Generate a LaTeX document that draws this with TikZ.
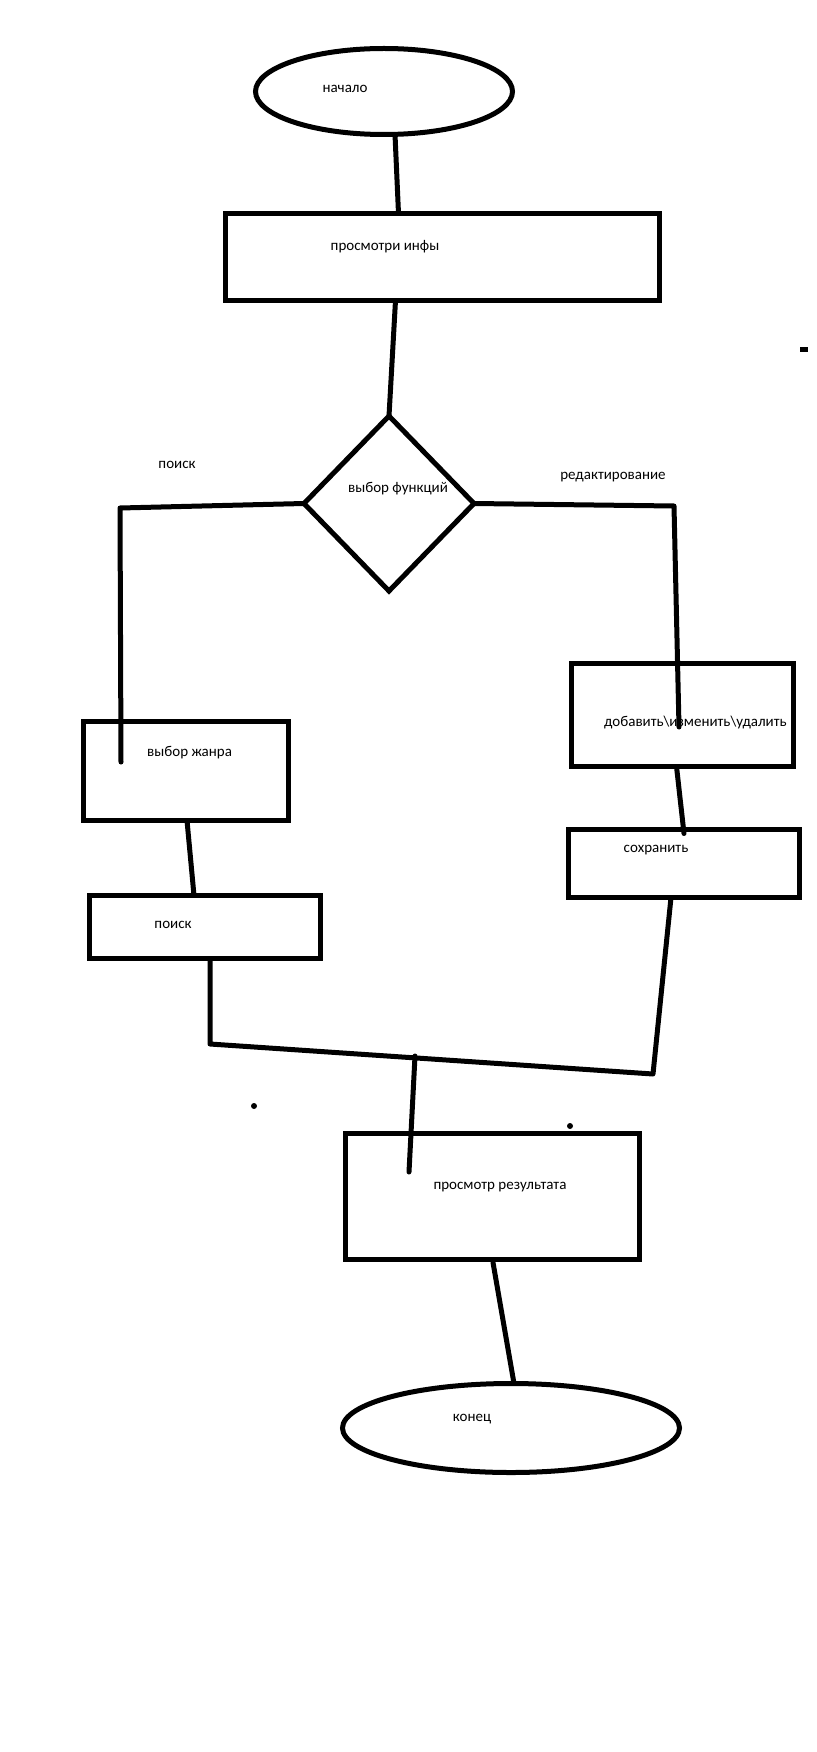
\documentclass[tikz,border=0pt]{standalone}
\usepackage{fontspec}
\setmainfont{Carlito}
\usetikzlibrary{shapes.geometric}
\begin{document}
\begin{tikzpicture}[x=1pt,y=-1pt,
  shapebox/.style={draw,line width=5pt,line join=miter,rectangle,inner sep=0pt,outer sep=0pt},
  shapeoval/.style={draw,line width=5pt,ellipse,inner sep=0pt,outer sep=0pt},
  conn/.style={line width=5pt,line cap=round,line join=round},
  lbl/.style={inner sep=0pt,font=\fontsize{15}{17}\selectfont},
  blob/.style={fill,circle,inner sep=0pt,minimum size=6pt}]
\useasboundingbox (0,0) rectangle (816,1752);
% shapes
\node[shapeoval,minimum width=257pt,minimum height=86pt] (start) at (384,91.5) {};
\node[shapebox,minimum width=434pt,minimum height=87pt] (info) at (442.5,257) {};
\node[draw,line width=5pt,diamond,inner sep=0pt,outer sep=0pt,aspect=0.97,minimum width=170pt,minimum height=175pt] (dec) at (389,503.5) {};
\node[shapebox,minimum width=205pt,minimum height=99pt] (genre) at (186,771) {};
\node[shapebox,minimum width=231pt,minimum height=63pt] (search) at (205,927) {};
\node[shapebox,minimum width=222pt,minimum height=103pt] (edit) at (682.5,715) {};
\node[shapebox,minimum width=231pt,minimum height=68pt] (save) at (684,863.5) {};
\node[shapebox,minimum width=294pt,minimum height=126pt] (result) at (492.5,1196.5) {};
\node[shapeoval,minimum width=337pt,minimum height=89pt] (finish) at (511,1428) {};
% labels
\node[lbl] (t1) at (345,89) {начало};
\node[lbl] (t2) at (385,247) {просмотри инфы};
\node[lbl] (t3) at (398,489) {выбор функций};
\node[lbl] (t4) at (177,465) {поиск};
\node[lbl] (t5) at (613,477) {редактирование};
\node[lbl,anchor=west] (t6) at (147,753) {выбор жанра};
\node[lbl,anchor=west] (t7) at (604,723) {добавить\textbackslash изменить\textbackslash удалить};
\node[lbl] (t8) at (173,925) {поиск};
\node[lbl] (t9) at (656,850) {сохранить};
\node[lbl] (t10) at (500,1187) {просмотр результата};
\node[lbl] (t11) at (472,1419) {конец};
% junction coordinates
\coordinate (lc) at (120,508);
\coordinate (le) at (121,762);
\coordinate (rc) at (674,506);
\coordinate (re) at (679,727);
\coordinate (ml) at (210,1044);
\coordinate (mr) at (653,1074);
\coordinate (mm) at (415,1056);
\coordinate (me) at (409,1172);
% connectors
\draw[conn] ([xshift=11pt]start.south) -- ([xshift=-44pt]info.north);
\draw[conn] ([xshift=-47pt]info.south) -- (dec.north);
\draw[conn] (dec.west) -- (lc) -- (le);
\draw[conn] (dec.east) -- (rc) -- (re);
\draw[conn] ([xshift=1pt]genre.south) -- ([xshift=-11pt]search.north);
\draw[conn] ([xshift=-6pt]edit.south) -- ([yshift=-4pt]save.north);
\draw[conn] ([xshift=5pt]search.south) -- (ml) -- (mr) -- ([xshift=-13pt]save.south);
\draw[conn] (mm) -- (me);
\draw[conn] ([xshift=0.5pt,yshift=-3pt]result.south) -- ([xshift=3pt]finish.north);
% stray dots
\node[blob] (d1) at (254,1106) {};
\node[blob] (d2) at (570,1126) {};
\node[fill,rectangle,inner sep=0pt,minimum width=8pt,minimum height=5pt] (d3) at (804,349.5) {};
\end{tikzpicture}
\end{document}
